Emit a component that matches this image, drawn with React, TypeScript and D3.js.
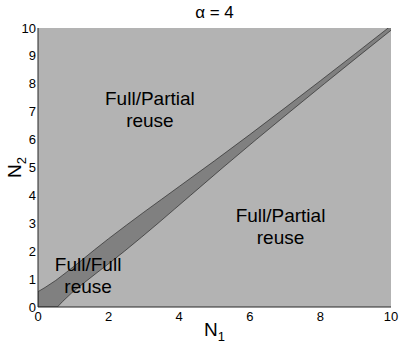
import * as d3 from "d3";
import { useEffect, useRef } from "react";

// axis ticks
const xTicks = [0, 2, 4, 6, 8, 10];
const yTicks = [0, 1, 2, 3, 4, 5, 6, 7, 8, 9, 10];

// upper edge of the dark band (N1, N2)
const upperN1 = [0, 0.2, 0.5, 0.8, 1.2, 1.6, 2, 2.5, 3, 3.5, 4, 5, 6, 7, 8, 9, 10];
const upperN2 = [0.55, 0.7, 0.95, 1.24, 1.64, 2.05, 2.45, 2.93, 3.4, 3.86, 4.32, 5.24, 6.18, 7.14, 8.11, 9.09, 10.08];

// lower edge of the dark band (N1, N2)
const lowerN1 = [0.55, 0.7, 0.95, 1.24, 1.64, 2.05, 2.45, 2.93, 3.4, 3.86, 4.32, 5.24, 6.18, 7.14, 8.11, 9.09, 10.08];
const lowerN2 = [0, 0.2, 0.5, 0.8, 1.2, 1.6, 2, 2.5, 3, 3.5, 4, 5, 6, 7, 8, 9, 10];

// region labels
const regionLines = [["Full/Partial", "reuse"], ["Full/Partial", "reuse"], ["Full/Full", "reuse"]];
const regionN1 = [3.17, 6.87, 1.42];
const regionN2 = [7.24, 3.05, 1.29];

const W = 402;
const H = 345;
const margin = { top: 28, right: 11, bottom: 38, left: 38 };
const font = "'Liberation Sans', Arial, Helvetica, sans-serif";

const Chart = () => {
    const ref = useRef<SVGSVGElement>(null);

    useEffect(() => {
        const svg = d3.select(ref.current);
        svg.selectAll("*").remove();

        const bw = W - margin.left - margin.right;
        const bh = H - margin.top - margin.bottom;

        const x = d3.scaleLinear().domain([0, 10]).range([0, bw]);
        const y = d3.scaleLinear().domain([0, 10]).range([bh, 0]);

        svg.append("defs").append("clipPath").attr("id", "plotclip")
            .append("rect").attr("width", bw).attr("height", bh);

        const g = svg.append("g")
            .attr("transform", `translate(${margin.left},${margin.top})`);

        // background region
        g.append("rect")
            .attr("width", bw)
            .attr("height", bh)
            .attr("fill", "#b3b3b3");

        // dark band: upper edge forward, lower edge back
        const pts: [number, number][] = [];
        upperN1.forEach((v, i) => pts.push([v, upperN2[i]]));
        for (let i = lowerN1.length - 1; i >= 0; i--) pts.push([lowerN1[i], lowerN2[i]]);
        pts.push([0, 0]);

        const line = d3.line<[number, number]>()
            .x(d => x(d[0]))
            .y(d => y(d[1]))
            .curve(d3.curveLinearClosed);

        g.append("path")
            .attr("d", line(pts))
            .attr("clip-path", "url(#plotclip)")
            .attr("fill", "#808080")
            .attr("stroke", "#1a1a1a")
            .attr("stroke-width", 0.6);

        // axes (left and bottom only)
        g.append("line")
            .attr("x1", 0).attr("x2", bw)
            .attr("y1", bh).attr("y2", bh)
            .attr("stroke", "#262626").attr("stroke-width", 1);
        g.append("line")
            .attr("x1", 0).attr("x2", 0)
            .attr("y1", 0).attr("y2", bh)
            .attr("stroke", "#262626").attr("stroke-width", 1);

        g.selectAll(".xt")
            .data(xTicks).enter()
            .append("text")
            .attr("x", d => x(d))
            .attr("y", bh + 14)
            .attr("text-anchor", "middle")
            .attr("font-family", font)
            .attr("font-size", 13)
            .text(d => d);

        g.selectAll(".yt")
            .data(yTicks).enter()
            .append("text")
            .attr("x", -2)
            .attr("y", d => y(d) + 4.5)
            .attr("text-anchor", "end")
            .attr("font-family", font)
            .attr("font-size", 13)
            .text(d => d);

        // region labels
        regionLines.forEach((lines, i) => {
            lines.forEach((s, j) => {
                g.append("text")
                    .attr("x", x(regionN1[i]))
                    .attr("y", y(regionN2[i]) + j * 22)
                    .attr("text-anchor", "middle")
                    .attr("font-family", font)
                    .attr("font-size", 19)
                    .text(s);
            });
        });

        // title
        svg.append("text")
            .attr("x", margin.left + bw / 2)
            .attr("y", 18)
            .attr("text-anchor", "middle")
            .attr("font-family", font)
            .attr("font-size", 17)
            .text("α = 4");

        // axis labels
        const xl = svg.append("text")
            .attr("x", margin.left + bw / 2)
            .attr("y", 336)
            .attr("text-anchor", "middle")
            .attr("font-family", font)
            .attr("font-size", 19);
        xl.append("tspan").text("N");
        xl.append("tspan").attr("dy", 5).attr("font-size", 13).text("1");

        const yl = svg.append("text")
            .attr("transform", `translate(21,${margin.top + bh / 2}) rotate(-90)`)
            .attr("text-anchor", "middle")
            .attr("font-family", font)
            .attr("font-size", 19);
        yl.append("tspan").text("N");
        yl.append("tspan").attr("dy", 5).attr("font-size", 13).text("2");
    }, []);

    return (
        <svg ref={ref} width={W} height={H}
            style={{ position: "absolute", left: 0, top: 0, background: "#fff" }}></svg>
    );
};

export default function App() {
    return <Chart />;
}
